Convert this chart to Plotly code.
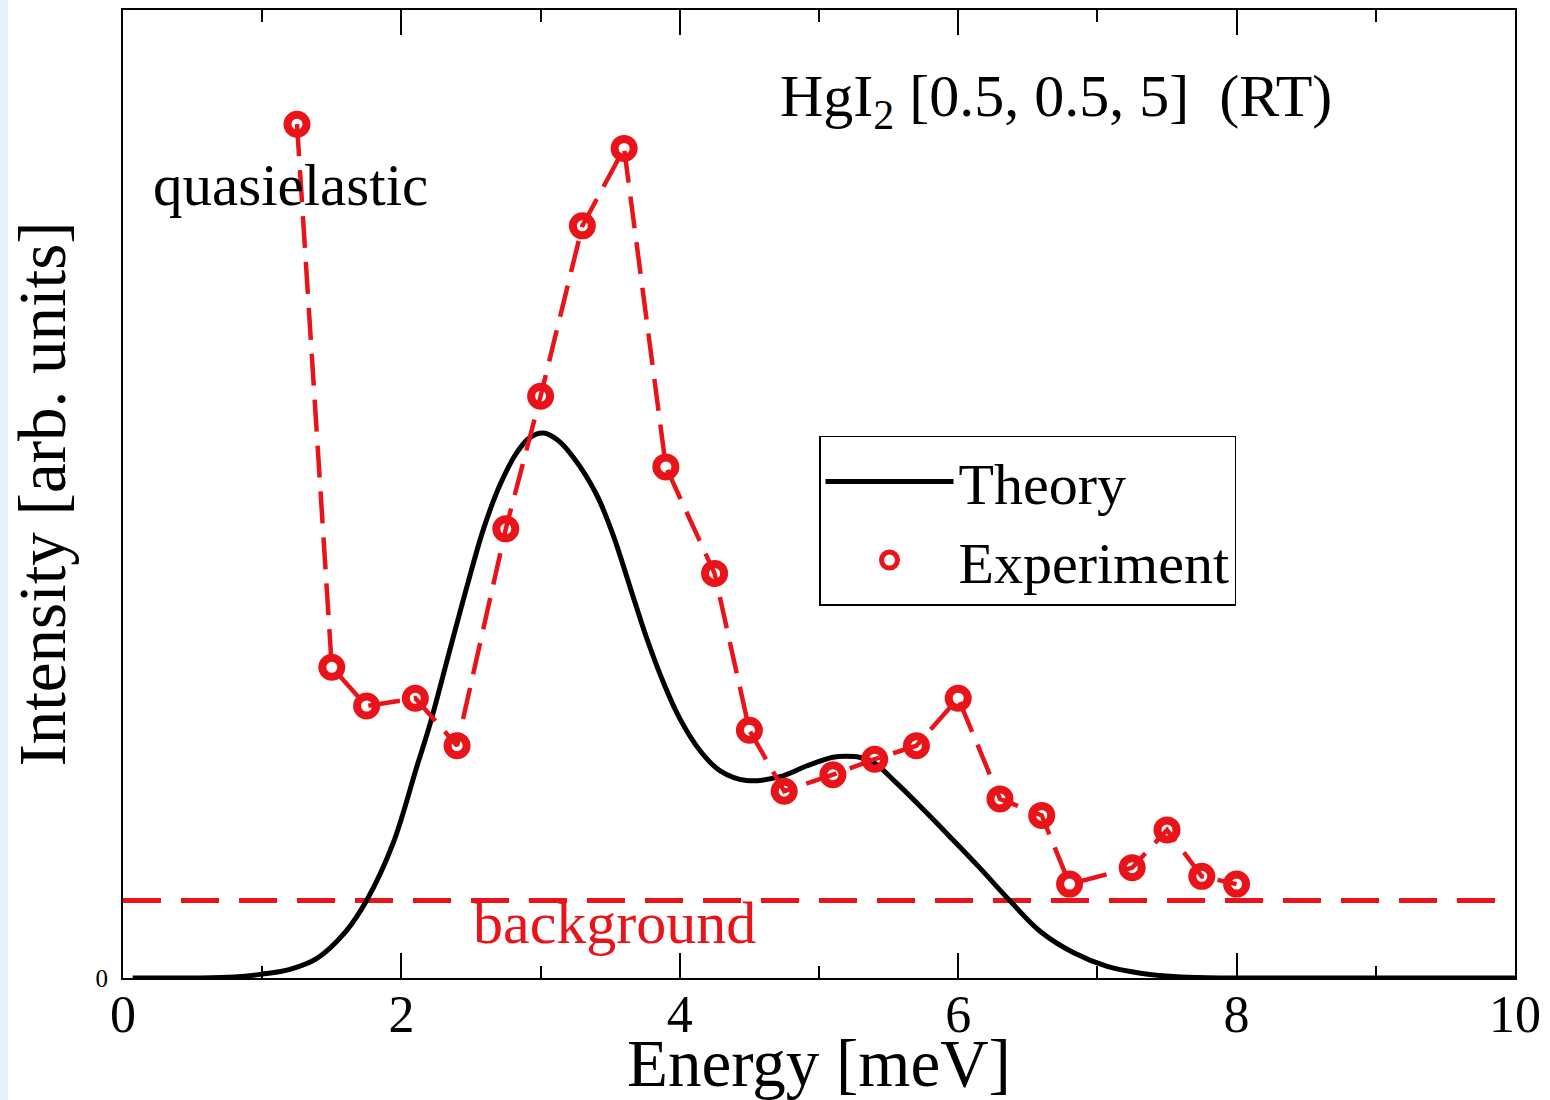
import plotly.graph_objects as go

# ---- data ----
theory_x = [0.07, 0.5, 0.8, 1.0, 1.2, 1.39, 1.6, 1.75, 1.94, 2.11, 2.205, 2.35, 2.47, 2.59,
            2.71, 2.83, 2.92, 3.02, 3.12, 3.24, 3.40, 3.52, 3.64, 3.76, 3.88, 4.0, 4.15,
            4.29, 4.48, 4.72, 4.91, 5.10, 5.20, 5.29, 5.39, 5.56, 5.75, 5.94, 6.16, 6.37,
            6.59, 6.83, 7.07, 7.31, 7.6, 8.0, 10.0]
theory_y = [0.0, 0.0, 0.001, 0.004, 0.009, 0.020, 0.048, 0.080, 0.139, 0.218, 0.262, 0.340,
            0.404, 0.464, 0.510, 0.543, 0.558, 0.563, 0.556, 0.537, 0.500, 0.458, 0.405,
            0.352, 0.306, 0.268, 0.234, 0.214, 0.204, 0.208, 0.219, 0.228, 0.229, 0.228,
            0.223, 0.201, 0.174, 0.146, 0.113, 0.080, 0.048, 0.026, 0.012, 0.005, 0.001,
            0.0, 0.0]

exp_x = [1.25, 1.5, 1.75, 2.1, 2.4, 2.75, 3.0, 3.3, 3.6, 3.9, 4.25, 4.5, 4.75, 5.1, 5.4,
         5.7, 6.0, 6.3, 6.6, 6.8, 7.25, 7.5, 7.75, 8.0]
exp_y = [0.882, 0.321, 0.281, 0.289, 0.240, 0.464, 0.601, 0.777, 0.857, 0.528, 0.418,
         0.256, 0.193, 0.210, 0.226, 0.240, 0.289, 0.185, 0.168, 0.097, 0.114, 0.153,
         0.105, 0.097]

background_x = [0.0, 10.0]
background_y = [0.080, 0.080]

x_ticks = [0, 2, 4, 6, 8, 10]

RED = "#e8141a"
FONT = "Liberation Serif"

fig = go.Figure()

fig.add_trace(go.Scatter(x=background_x, y=background_y, mode="lines",
                         line=dict(color=RED, width=5, dash="38px,20px"),
                         showlegend=False, hoverinfo="skip"))

fig.add_trace(go.Scatter(x=theory_x, y=theory_y, mode="lines", name="Theory",
                         line=dict(color="black", width=5, shape="spline", smoothing=1.0)))

fig.add_trace(go.Scatter(x=exp_x, y=exp_y, mode="lines",
                         line=dict(color=RED, width=4.5, dash="32px,14px"),
                         showlegend=False, hoverinfo="skip"))

fig.add_trace(go.Scatter(x=exp_x, y=exp_y, mode="markers", name="Experiment",
                         marker=dict(symbol="circle-open", size=19, color=RED,
                                     line=dict(color=RED, width=8))))

fig.update_layout(
    width=1550, height=1100,
    margin=dict(l=123, r=35, t=10, b=122),
    paper_bgcolor="white", plot_bgcolor="white",
    font=dict(family=FONT, color="black"),
    legend=dict(x=0.5, y=0.56, xanchor="left", yanchor="top",
                bordercolor="black", borderwidth=1.5, bgcolor="white",
                font=dict(size=58, family=FONT), itemwidth=128,
                tracegroupgap=0),
    xaxis=dict(range=[0, 10], tickvals=x_ticks, ticks="inside", ticklen=25,
               tickwidth=1.5, tickcolor="black",
               minor=dict(dtick=1, ticks="inside", ticklen=12, tickwidth=1.5, tickcolor="black"),
               showline=True, linecolor="black", linewidth=2, mirror="allticks",
               showgrid=False, zeroline=False, automargin=False,
               tickfont=dict(size=52, family=FONT), ticklabelstandoff=-10,
               title=dict(text="Energy [meV]", font=dict(size=67, family=FONT), standoff=0)),
    yaxis=dict(range=[0, 1], tickvals=[0], ticktext=["0"], ticks="", showline=True,
               linecolor="black", linewidth=2, mirror=True, showgrid=False, zeroline=False,
               automargin=False,
               tickfont=dict(size=25, family=FONT), ticklabelstandoff=8,
               title=dict(text="Intensity [arb. units]", font=dict(size=67, family=FONT),
                          standoff=8)),
    annotations=[
        dict(x=6.70, y=0.907, xref="x", yref="y",
             text="HgI<sub>2</sub> [0.5, 0.5, 5]\u00a0\u00a0(RT)", showarrow=False,
             font=dict(size=60, family=FONT, color="black")),
        dict(x=1.2, y=0.819, xref="x", yref="y", text="quasielastic", showarrow=False,
             font=dict(size=59, family=FONT, color="black")),
        dict(x=3.53, y=0.057, xref="x", yref="y", text="background", showarrow=False,
             font=dict(size=60, family=FONT, color=RED)),
    ],
    shapes=[
        dict(type="rect", xref="paper", yref="paper", x0=-123 / 1392, x1=-115 / 1392,
             y0=-122 / 968, y1=1 + 10 / 968, fillcolor="#e6f1fb", line=dict(width=0),
             layer="below"),
    ],
)

fig.write_html("out.html")
